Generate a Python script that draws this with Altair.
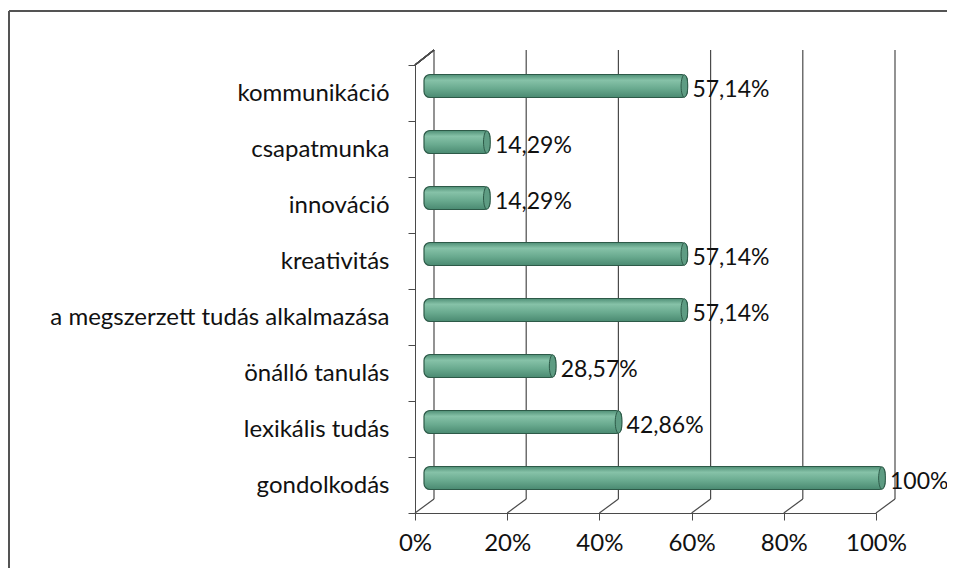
import altair as alt
import pandas as pd

categories = ["kommunikáció", "csapatmunka", "innováció", "kreativitás",
              "a megszerzett tudás alkalmazása", "önálló tanulás",
              "lexikális tudás", "gondolkodás"]
values = [0.5714, 0.1429, 0.1429, 0.5714, 0.5714, 0.2857, 0.4286, 1.0]
labels = ["57,14%", "14,29%", "14,29%", "57,14%", "57,14%", "28,57%", "42,86%", "100%"]
ticks = [0, 0.2, 0.4, 0.6, 0.8, 1.0]

df = pd.DataFrame({"category": categories, "value": values, "label": labels})
tdf = pd.DataFrame({"tick": ticks})

W, H = 461, 448
DX, DY = 19, -14
FONT = "Lato"
TXT = "#111111"
LINE = "#4a4a4a"

xscale = alt.Scale(domain=[0, 1], nice=False)
ysc = alt.Scale(domain=categories, paddingInner=0, paddingOuter=0)

xaxis = alt.Axis(values=ticks, format="%", title=None, grid=False,
                 labelFont=FONT, labelFontSize=24, labelColor=TXT, labelFlush=False,
                 domainColor=LINE, tickColor=LINE, tickSize=7, labelPadding=11)
yaxis = alt.Axis(title=None, grid=False, tickBand="extent", labelLimit=0,
                 labelFont=FONT, labelFontSize=24, labelColor=TXT,
                 domainColor=LINE, tickColor=LINE, tickSize=7, labelPadding=19)

# back-wall gridlines (3D offset)
grid = alt.Chart(tdf).mark_rule(color=LINE, strokeWidth=1.2, xOffset=DX).encode(
    x=alt.X("tick:Q", scale=xscale, axis=xaxis),
    y=alt.value(DY - 1), y2=alt.value(H + DY))

# floor diagonals
diag = alt.Chart(tdf).mark_rule(color=LINE, strokeWidth=1.2, x2Offset=DX).encode(
    x=alt.X("tick:Q", scale=xscale), x2="tick:Q",
    y=alt.value(H), y2=alt.value(H + DY))

# top-left wall edge
edge = alt.Chart(tdf).mark_rule(color=LINE, strokeWidth=1.2).encode(
    x=alt.value(0), x2=alt.value(DX), y=alt.value(0), y2=alt.value(DY - 1))

# outer frame (top and left)
frame_top = alt.Chart(tdf).mark_rule(color="#555", strokeWidth=1.5).encode(
    x=alt.value(-406), x2=alt.value(535), y=alt.value(-54))
frame_left = alt.Chart(tdf).mark_rule(color="#555", strokeWidth=1.5).encode(
    x=alt.value(-406), y=alt.value(-54), y2=alt.value(H + 60))

grad = alt.LinearGradient(
    gradient="linear", x1=0, y1=0, x2=0, y2=1,
    stops=[alt.GradientStop(color="#4f8f76", offset=0),
           alt.GradientStop(color="#86c2a8", offset=0.25),
           alt.GradientStop(color="#6aab90", offset=0.6),
           alt.GradientStop(color="#4a8a71", offset=1)])

bars = alt.Chart(df).mark_bar(size=23, yOffset=-7, xOffset=9, x2Offset=9,
                              cornerRadius=6, fill=grad, stroke="#2d5a48",
                              strokeWidth=1.2).encode(
    y=alt.Y("category:N", scale=ysc, axis=yaxis, sort=categories),
    x=alt.X("value:Q", scale=xscale),
    x2=alt.datum(0))

cap = alt.Chart(df).mark_point(
    shape="M 0 -1 A 0.3 1 0 1 1 0 1 A 0.3 1 0 1 1 0 -1 Z",
    size=500, filled=True, fill="#5e9c83", stroke="#2d5a48", strokeWidth=1,
    opacity=1, xOffset=6, yOffset=-7).encode(
    y=alt.Y("category:N", scale=ysc, sort=categories),
    x=alt.X("value:Q", scale=xscale))

text = alt.Chart(df).mark_text(align="left", baseline="middle", dx=14, dy=-3,
                               font=FONT, fontSize=23, color=TXT).encode(
    y=alt.Y("category:N", scale=ysc, sort=categories),
    x=alt.X("value:Q", scale=xscale),
    text="label:N")

chart = alt.layer(frame_top, frame_left, grid, diag, edge, bars, cap, text).properties(
    width=W, height=H,
    autosize=alt.AutoSizeParams(type="none"),
    padding={"left": 407, "top": 57, "right": 71, "bottom": 55},
    background="white",
).configure_view(stroke=None)

chart.save("out.html", embed_options={"renderer": "svg", "actions": False})
